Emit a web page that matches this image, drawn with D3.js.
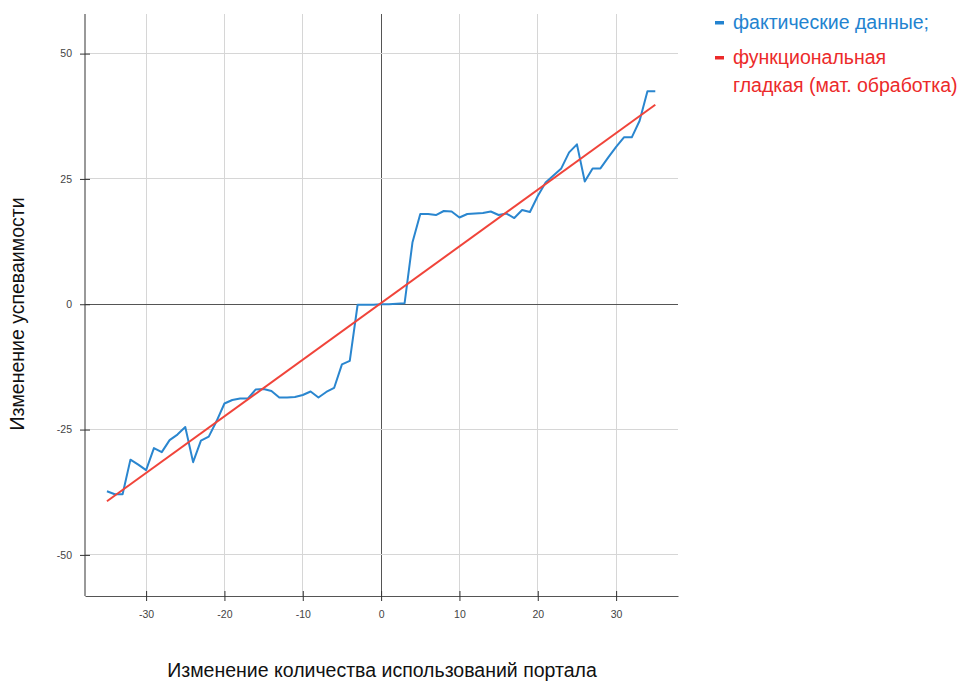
<!DOCTYPE html>
<html>
<head>
<meta charset="utf-8">
<script src="https://cdn.jsdelivr.net/npm/d3@7/dist/d3.min.js"></script>
<style>
  html, body { margin: 0; padding: 0; background: #fff; }
  svg { display: block; }
</style>
</head>
<body>
<script>
// Change in portal usage (x) against change in performance (y)
const xValues = d3.range(-35, 36);
const actualValues = [
  -37.3, -37.9, -37.9, -31.0, -32.0, -33.1, -28.7, -29.5, -27.1, -26.0,
  -24.5, -31.5, -27.2, -26.4, -23.3, -19.8, -19.1, -18.8, -18.8, -17.0,
  -16.9, -17.3, -18.6, -18.6, -18.5, -18.1, -17.4, -18.6, -17.5, -16.7,
  -12.0, -11.3, -0.1, -0.1, -0.1, 0.0, 0.0, 0.1, 0.2, 12.3,
  18.0, 18.0, 17.8, 18.6, 18.5, 17.3, 18.0, 18.1, 18.2, 18.5,
  17.8, 18.1, 17.2, 18.8, 18.4, 21.6, 24.3, 25.7, 27.1, 30.3,
  31.9, 24.5, 27.1, 27.1, 29.3, 31.4, 33.3, 33.3, 36.6, 42.5,
  42.5
];
// Smoothed (fitted) line endpoints
const fitX = [-35, 35];
const fitValues = [-39.3, 39.8];

const xTicks = [-30, -20, -10, 0, 10, 20, 30];
const yTicks = [-50, -25, 0, 25, 50];

const legendLabels = [["фактические данные;"], ["функциональная", "гладкая (мат. обработка)"]];
const xTitle = "Изменение количества использований портала";
const yTitle = "Изменение успеваимости";

const W = 962, H = 681;
const plot = { left: 85, right: 678, top: 14, bottom: 596 };
const blue = "#2a86cf", red = "#f0443a";
const legendBlue = "#2383d0", legendRed = "#ec2a2a";
const font = "Liberation Sans, Arial, sans-serif";

const svg = d3.select("body").append("svg").attr("width", W).attr("height", H);

const x = d3.scaleLinear().domain([-37.8, 37.9]).range([plot.left, plot.right]);
const y = d3.scaleLinear().domain([-58.2, 57.9]).range([plot.bottom, plot.top]);

// grid
const grid = svg.append("g");
grid.selectAll("line.gx").data(xTicks).join("line")
  .attr("x1", d => x(d)).attr("x2", d => x(d))
  .attr("y1", plot.top).attr("y2", plot.bottom)
  .attr("stroke", d => d === 0 ? "#555" : "#d6d6d6").attr("stroke-width", 1)
  .attr("shape-rendering", "crispEdges");
grid.selectAll("line.gy").data(yTicks).join("line")
  .attr("x1", plot.left).attr("x2", plot.right)
  .attr("y1", d => y(d)).attr("y2", d => y(d))
  .attr("stroke", d => d === 0 ? "#555" : "#d6d6d6").attr("stroke-width", 1)
  .attr("shape-rendering", "crispEdges");

// axes
const fmt = d => String(d);
const xAxis = d3.axisBottom(x).tickValues(xTicks).tickFormat(fmt).tickSizeInner(5).tickSizeOuter(0).tickPadding(10);
const yAxis = d3.axisLeft(y).tickValues(yTicks).tickFormat(fmt).tickSizeInner(5).tickSizeOuter(0).tickPadding(8);

const gx = svg.append("g").attr("transform", `translate(0,${plot.bottom})`).call(xAxis);
const gy = svg.append("g").attr("transform", `translate(${plot.left},0)`).call(yAxis);
[gx, gy].forEach(g => {
  g.select(".domain").attr("stroke", "#555").attr("stroke-width", 1.2);
  g.selectAll(".tick text").attr("font-family", "Liberation Sans Narrow, Arial Narrow, Liberation Sans, sans-serif")
    .attr("font-size", 10.5).attr("fill", "#444");
});
gx.selectAll(".tick line").attr("y1", -5).attr("y2", 5).attr("stroke", "#333");
gy.selectAll(".tick line").attr("x1", -5).attr("x2", 5).attr("stroke", "#333");
gy.select(".domain").attr("d", `M0,${plot.top}V${plot.bottom}`);

// data lines
const actualLine = d3.line().x((d, i) => x(xValues[i])).y(d => y(d));
svg.append("path").datum(actualValues)
  .attr("d", actualLine).attr("fill", "none")
  .attr("stroke", blue).attr("stroke-width", 2).attr("stroke-linejoin", "round");

const fitLine = d3.line().x((d, i) => x(fitX[i])).y(d => y(d));
svg.append("path").datum(fitValues)
  .attr("d", fitLine).attr("fill", "none")
  .attr("stroke", red).attr("stroke-width", 2);

// axis titles
svg.append("text").attr("x", 382).attr("y", 677).attr("text-anchor", "middle")
  .attr("font-family", font).attr("font-size", 19.5).attr("fill", "#111")
  .text(xTitle);
svg.append("text").attr("transform", "translate(24,314) rotate(-90)").attr("text-anchor", "middle")
  .attr("font-family", font).attr("font-size", 19.5).attr("fill", "#111")
  .text(yTitle);

// legend
const legendColors = [legendBlue, legendRed];
const legendY = [29, 64];
const lg = svg.append("g");
legendLabels.forEach((lines, i) => {
  lg.append("rect").attr("x", 715).attr("y", legendY[i] - 8).attr("width", 9).attr("height", 3.5)
    .attr("fill", legendColors[i]);
  lines.forEach((t, j) => {
    lg.append("text").attr("x", 733).attr("y", legendY[i] + j * 28)
      .attr("font-family", font).attr("font-size", 19.5)
      .attr("fill", legendColors[i]).text(t);
  });
});
</script>
</body>
</html>
